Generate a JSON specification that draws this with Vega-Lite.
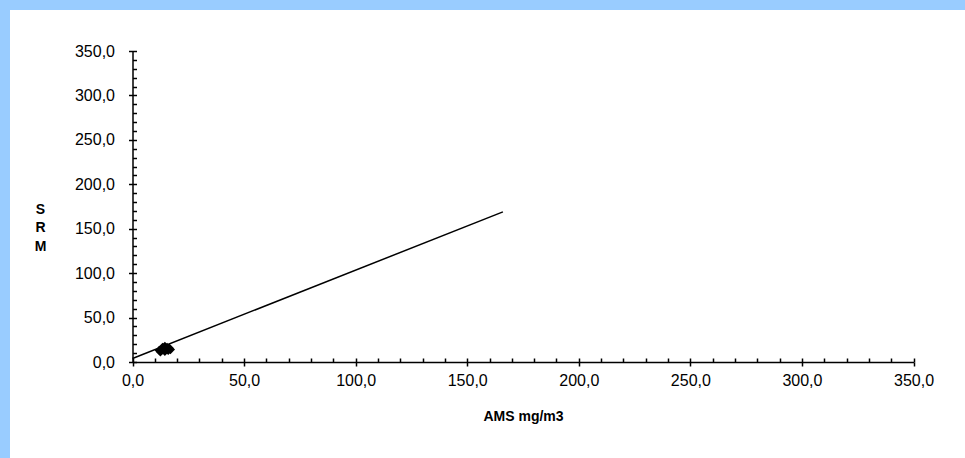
{
  "$schema": "https://vega.github.io/schema/vega-lite/v6.json",
  "width": 955,
  "height": 448,
  "padding": {"left": 10, "top": 10, "right": 0, "bottom": 0},
  "autosize": {"type": "none"},
  "background": "#99CCFF",
  "config": {
    "view": {"fill": "white", "stroke": null},
    "axis": {
      "grid": false,
      "domainColor": "black",
      "domainWidth": 1.5,
      "tickColor": "black",
      "tickWidth": 1.5,
      "labelFont": "Liberation Sans",
      "labelFontSize": 16,
      "labelColor": "black",
      "labelFlush": false,
      "titleFont": "Liberation Sans",
      "titleFontSize": 14,
      "titleFontWeight": "bold",
      "titleColor": "black"
    }
  },
  "datasets": {
    "fit": [
      {"ams": 0, "srm": 4},
      {"ams": 166, "srm": 169}
    ],
    "points": [
      {"ams": 12, "srm": 13},
      {"ams": 12.5, "srm": 11.5},
      {"ams": 13, "srm": 14},
      {"ams": 13.5, "srm": 13.5},
      {"ams": 14, "srm": 15.5},
      {"ams": 14.5, "srm": 12},
      {"ams": 15, "srm": 14.5},
      {"ams": 15.5, "srm": 16.5},
      {"ams": 16, "srm": 13},
      {"ams": 16.5, "srm": 15.5},
      {"ams": 17, "srm": 14},
      {"ams": 13.5, "srm": 16.5},
      {"ams": 14.5, "srm": 17.5}
    ]
  },
  "layer": [
    {
      "data": {"name": "fit"},
      "mark": {"type": "line", "color": "black", "strokeWidth": 1.5},
      "encoding": {
        "x": {
          "field": "ams", "type": "quantitative",
          "scale": {"domain": [0, 350], "range": [122.5, 903.5], "nice": false, "zero": false},
          "axis": {
            "orient": "bottom",
            "offset": -96,
            "values": [0, 50, 100, 150, 200, 250, 300, 350],
            "tickSize": 4,
            "labelPadding": 6,
            "labelExpr": "replace(format(datum.value, '.1f'), '.', ',')",
            "title": "AMS mg/m3",
            "titleX": 513,
            "titleY": 54,
            "titleBaseline": "middle",
            "titleAnchor": null
          }
        },
        "y": {
          "field": "srm", "type": "quantitative",
          "scale": {"domain": [0, 350], "range": [352, 41], "nice": false, "zero": false},
          "axis": {
            "orient": "left",
            "offset": -122.5,
            "values": [0, 50, 100, 150, 200, 250, 300, 350],
            "tickSize": 4,
            "labelPadding": 14,
            "labelExpr": "replace(format(datum.value, '.1f'), '.', ',')",
            "title": ["S", "R", "M"],
            "titleAngle": 0,
            "titleAlign": "center",
            "titleBaseline": "middle",
            "titleLineHeight": 18.5,
            "titleX": -92.5,
            "titleY": 199
          }
        }
      }
    },
    {
      "data": {"name": "points"},
      "mark": {"type": "point", "shape": "diamond", "filled": true, "color": "black", "size": 85, "opacity": 1},
      "encoding": {
        "x": {
          "field": "ams", "type": "quantitative",
          "scale": {"domain": [0, 350], "range": [122.5, 903.5], "nice": false, "zero": false},
          "axis": {
            "orient": "bottom",
            "offset": -96,
            "values": [0, 10, 20, 30, 40, 50, 60, 70, 80, 90, 100, 110, 120, 130, 140, 150, 160, 170, 180, 190, 200, 210, 220, 230, 240, 250, 260, 270, 280, 290, 300, 310, 320, 330, 340, 350],
            "tickSize": -4,
            "labels": false,
            "domain": false,
            "title": null
          }
        },
        "y": {
          "field": "srm", "type": "quantitative",
          "scale": {"domain": [0, 350], "range": [352, 41], "nice": false, "zero": false},
          "axis": {
            "orient": "left",
            "offset": -122.5,
            "values": [0, 10, 20, 30, 40, 50, 60, 70, 80, 90, 100, 110, 120, 130, 140, 150, 160, 170, 180, 190, 200, 210, 220, 230, 240, 250, 260, 270, 280, 290, 300, 310, 320, 330, 340, 350],
            "tickSize": -4,
            "labels": false,
            "domain": false,
            "title": null
          }
        }
      }
    }
  ],
  "resolve": {"axis": {"x": "independent", "y": "independent"}}
}
